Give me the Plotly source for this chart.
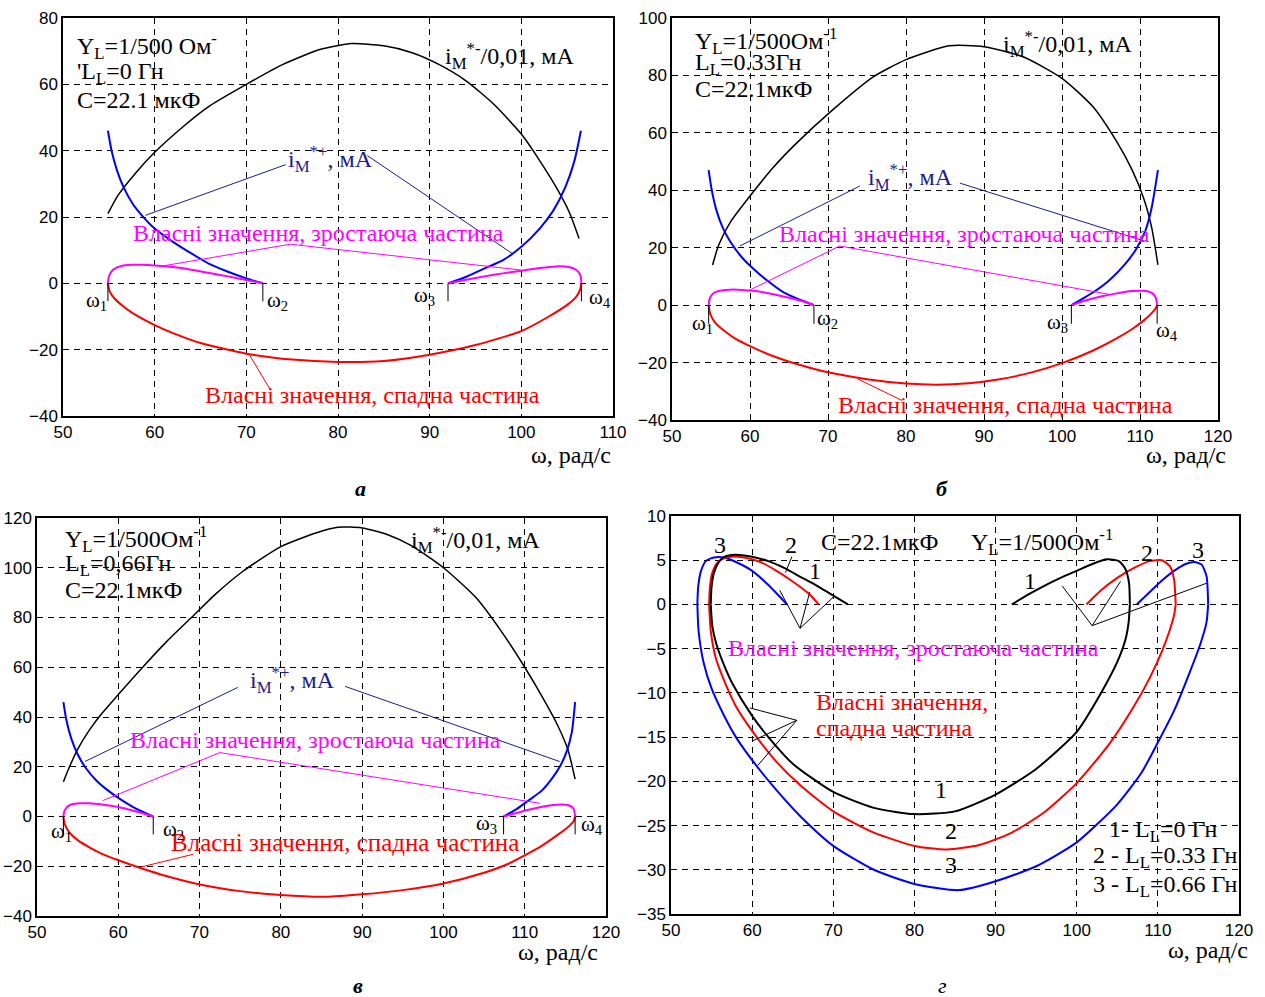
import plotly.graph_objects as go

# ---------------- data ----------------
# panel а : L_L = 0
A_BLACK_W = [54.9, 56, 58, 60, 63, 66, 70, 74, 78, 81.5, 85, 88, 91, 94, 97, 100, 102, 104, 105.3, 106.3]
A_BLACK_I = [21, 26.5, 33.5, 39.5, 47, 53.5, 60, 66, 70.5, 72.3, 71.6, 69.6, 66, 61, 54, 45, 37, 28, 21, 13.5]
A_BLUE_L_W = [54.9, 55.3, 55.9, 56.6, 57.6, 58.6, 60, 62, 64, 66, 68, 70, 71.8]
A_BLUE_L_I = [46, 40, 34, 29, 24, 20.5, 16.5, 12.5, 9, 5.8, 3.5, 1.5, 0]
A_BLUE_R_W = [92, 94, 96, 98, 100, 102, 103.5, 104.8, 105.8, 106.5]
A_BLUE_R_I = [0, 2, 4.5, 7, 11, 16.5, 22, 29, 37, 46]
A_MAG_L_W = [54.9, 55.0, 55.3, 55.9, 56.6, 57.5, 58.5, 60, 62, 64, 66, 68, 70, 71.8]
A_MAG_L_I = [0, 2, 3.6, 4.8, 5.4, 5.6, 5.6, 5.4, 4.9, 4.1, 3.1, 2.1, 1.0, 0]
A_MAG_R_W = [92, 94, 96, 98, 100, 102, 103.7, 105.2, 106.0, 106.45, 106.55]
A_MAG_R_I = [0, 1.1, 2.1, 3.0, 3.8, 4.6, 5.1, 4.9, 4.0, 2.4, 0]
A_RED_W = [54.9, 55.1, 55.6, 56.6, 57.6, 60, 62, 65, 70, 75, 80, 85, 90, 95, 100, 103, 105, 106, 106.4, 106.55]
A_RED_I = [0, -2.5, -4.5, -7, -9, -12.6, -15, -18, -21.2, -23, -23.7, -23.4, -21.5, -18.6, -14.4, -10, -6.5, -4, -2, 0]

# panel б : L_L = 0.33
B_BLACK_W = [55.2, 56, 57.5, 60, 63, 66, 70.6, 75.8, 80, 85.5, 90, 95, 100, 104, 107, 109, 110.5, 111.5, 112.3]
B_BLACK_I = [14, 21, 29, 38, 48, 56.5, 68, 79.5, 85.5, 90.3, 90, 86.5, 79, 69, 57, 47, 37, 27, 14]
B_BLUE_L_W = [54.7, 55.1, 55.7, 56.5, 57.5, 59, 60.5, 62, 64, 66, 68.2]
B_BLUE_L_I = [47, 40, 33, 27, 22, 16.5, 12.5, 9, 5, 2.3, 0]
B_BLUE_R_W = [101.2, 103, 104.3, 106, 108, 109.5, 110.7, 111.5, 112.3]
B_BLUE_R_I = [0, 2.8, 5, 8.5, 14, 19.5, 26, 34, 47]
B_MAG_L_W = [54.7, 54.8, 55.1, 55.7, 56.5, 57.5, 59, 61, 63, 65, 67, 68.2]
B_MAG_L_I = [0, 2, 3.6, 4.7, 5.2, 5.4, 5.3, 4.8, 3.8, 2.6, 1.2, 0]
B_MAG_R_W = [101.2, 103, 105, 107, 109, 110.5, 111.5, 112, 112.2]
B_MAG_R_I = [0, 1.6, 3.0, 4.1, 4.9, 5.0, 4.3, 2.8, 0]
B_RED_W = [54.7, 54.9, 55.5, 56.5, 58, 60, 63, 66, 70, 75, 80, 84, 88, 92, 96, 100, 104, 107, 109, 110.5, 111.5, 112, 112.2]
B_RED_I = [0, -3, -6, -8.5, -11.5, -14.3, -17.8, -20.5, -23.4, -25.8, -27.3, -27.7, -27.2, -25.8, -23.5, -20.2, -15.8, -11.6, -8.3, -5.3, -2.8, -1.2, 0]

# panel в : L_L = 0.66
C_BLACK_W = [53.25, 54, 55, 56.5, 58, 60, 63, 66, 69, 72, 75.3, 80, 84.3, 87, 90, 93, 96, 100, 104, 107, 110, 112, 114, 115.3, 116.2]
C_BLACK_I = [14, 20, 27, 35, 41.5, 49, 60, 70.5, 80, 89.5, 98.5, 108.5, 114, 116.3, 116, 113.5, 109, 100, 88, 75, 60, 49, 37, 27, 15]
C_BLUE_L_W = [53.25, 53.6, 54.2, 55, 56, 57.3, 58.6, 60, 62, 64.3]
C_BLUE_L_I = [46, 39, 31.5, 25, 19.5, 14.5, 10.8, 7.5, 3.5, 0]
C_BLUE_R_W = [107.4, 109, 110.5, 112.1, 113.3, 114.4, 115.2, 115.8, 116.2]
C_BLUE_R_I = [0, 3, 6.5, 10.4, 15, 20.5, 26.5, 34, 46]
C_MAG_L_W = [53.25, 53.35, 53.7, 54.3, 55.3, 56.5, 58, 60, 62, 64.3]
C_MAG_L_I = [0, 2, 3.8, 4.9, 5.3, 5.3, 4.8, 3.8, 2.2, 0]
C_MAG_R_W = [107.4, 109, 110.5, 112, 113.5, 114.5, 115.4, 116, 116.2]
C_MAG_R_I = [0, 1.4, 2.7, 3.8, 4.6, 4.8, 4.5, 3.2, 0]
C_RED_W = [53.25, 53.4, 54, 55, 56.5, 58, 60, 63, 66, 70, 75, 80, 85.5, 90, 95, 100, 105, 108, 110, 112, 114, 115.3, 116, 116.2]
C_RED_I = [0, -3, -6.5, -9.5, -12.5, -15, -17.6, -21, -24, -27.3, -30, -31.6, -32.3, -31.3, -29.6, -26.9, -22.6, -19, -15.6, -12, -7.5, -4.3, -2, 0]

X_TITLE = "ω, рад/с"
GROW = "Власні значення, зростаюча частина"
FALL = "Власні значення, спадна частина"

# ---------------- styling ----------------
SERIF = "Liberation Serif"
SANS = "Liberation Sans"
BLUE = "#0000ff"
NAVY = "#1c1c8c"
MAG = "#ff00ff"
RED = "#ff0000"
FS = 24
W, H = 1265, 997

fig = go.Figure()


def px(x):
    return x / W


def py(y):
    return 1 - y / H


def curve(xs, ys, color, width, n):
    fig.add_trace(go.Scatter(x=xs, y=ys, mode="lines", line=dict(color=color, width=width, shape="spline", smoothing=0.6),
                             xaxis="x" + n, yaxis="y" + n, showlegend=False, hoverinfo="skip"))


def omega_ticks(points, drop, n):
    for w in points:
        fig.add_trace(go.Scatter(x=[w, w], y=[0, -drop], mode="lines", line=dict(color="black", width=1),
                                 xaxis="x" + n, yaxis="y" + n, showlegend=False, hoverinfo="skip"))


annotations = []
shapes = []


def ann(text, x, y, n, color="black", size=FS, xanchor="left", yanchor="middle", font=SERIF):
    ref_x = "paper" if n is None else "x" + n
    ref_y = "paper" if n is None else "y" + n
    annotations.append(dict(text=text, x=x, y=y, xref=ref_x, yref=ref_y,
                            showarrow=False, xanchor=xanchor, yanchor=yanchor,
                            font=dict(family=font, size=size, color=color)))


def seg(x0, y0, x1, y1, n, color, width=1):
    shapes.append(dict(type="line", x0=x0, y0=y0, x1=x1, y1=y1, xref="x" + n, yref="y" + n,
                       line=dict(color=color, width=width)))


def standard_panel(n, bw, bi, blw, bli, brw, bri, mlw, mli, mrw, mri, rw, ri, drop):
    curve(bw, bi, "black", 1.5, n)
    curve(blw, bli, BLUE, 2, n)
    curve(brw, bri, BLUE, 2, n)
    curve(mlw, mli, MAG, 2, n)
    curve(mrw, mri, MAG, 2, n)
    curve(rw, ri, RED, 2, n)
    omega_ticks([mlw[0], mlw[-1], mrw[0], mrw[-1]], drop, n)


standard_panel("", A_BLACK_W, A_BLACK_I, A_BLUE_L_W, A_BLUE_L_I, A_BLUE_R_W, A_BLUE_R_I,
               A_MAG_L_W, A_MAG_L_I, A_MAG_R_W, A_MAG_R_I, A_RED_W, A_RED_I, 5.4)
standard_panel("2", B_BLACK_W, B_BLACK_I, B_BLUE_L_W, B_BLUE_L_I, B_BLUE_R_W, B_BLUE_R_I,
               B_MAG_L_W, B_MAG_L_I, B_MAG_R_W, B_MAG_R_I, B_RED_W, B_RED_I, 6.5)
standard_panel("3", C_BLACK_W, C_BLACK_I, C_BLUE_L_W, C_BLUE_L_I, C_BLUE_R_W, C_BLUE_R_I,
               C_MAG_L_W, C_MAG_L_I, C_MAG_R_W, C_MAG_R_I, C_RED_W, C_RED_I, 7.2)
for (mlw, mli, mrw, mri, rw, ri, col) in [
    (C_MAG_L_W, C_MAG_L_I, C_MAG_R_W, C_MAG_R_I, C_RED_W, C_RED_I, BLUE),
    (B_MAG_L_W, B_MAG_L_I, B_MAG_R_W, B_MAG_R_I, B_RED_W, B_RED_I, RED),
    (A_MAG_L_W, A_MAG_L_I, A_MAG_R_W, A_MAG_R_I, A_RED_W, A_RED_I, "black"),
]:
    curve(mlw, mli, col, 2, "4")
    curve(mrw, mri, col, 2, "4")
    curve(rw, ri, col, 2, "4")

# ---------------- annotations ----------------
IM = "i<sub>M</sub><sup>*-</sup>/0,01, мА"
IP = "i<sub>M</sub><sup>*+</sup>, мА"
w = lambda k: "ω<sub>%d</sub>" % k
WS = 21

# а
ann("Y<sub>L</sub>=1/500 Ом<sup>-</sup>", 51.3, 71.5, "")
ann("'L<sub>L</sub>=0 Гн", 51.3, 63.5, "")
ann("C=22.1 мкФ", 51.3, 55.3, "")
ann(IM, 91.5, 68.5, "")
ann(IP, 74.3, 37.5, "", color=NAVY)
seg(74.3, 35.8, 59.0, 20.5, "", NAVY)
seg(83.2, 38.5, 99.0, 9.0, "", NAVY)
ann(GROW, 57.4, 15.2, "", color=MAG)
seg(74.8, 11.8, 61.0, 5.3, "", MAG)
seg(74.8, 11.8, 100.0, 4.0, "", MAG)
ann(FALL, 65.3, -33.6, "", color=RED)
seg(70.3, -21.4, 72.6, -32.0, "", RED)
ann(w(1), 53.6, -5.3, "", xanchor="center", size=WS)
ann(w(2), 73.4, -5.3, "", xanchor="center", size=WS)
ann(w(3), 89.4, -3.9, "", xanchor="center", size=WS)
ann(w(4), 108.6, -4.3, "", xanchor="center", size=WS)

# б
ann("Y<sub>L</sub>=1/500Ом<sup>-1</sup>", 52.7, 92.0, "2")
ann("L<sub>L</sub>=0.33Гн", 52.7, 84.0, "2")
ann("C=22.1мкФ", 52.7, 75.3, "2")
ann(IM, 92.2, 91.0, "2")
ann(IP, 74.9, 44.6, "2", color=NAVY)
seg(74.1, 41.5, 58.7, 20.6, "2", NAVY)
seg(86.9, 42.5, 110.6, 22.3, "2", NAVY)
ann(GROW, 63.4, 24.7, "2", color=MAG)
seg(71.5, 20.6, 59.7, 4.9, "2", MAG)
seg(71.5, 20.6, 106.0, 3.8, "2", MAG)
ann(FALL, 71.0, -34.9, "2", color=RED)
seg(73.8, -25.7, 79.5, -33.2, "2", RED)
ann(w(1), 53.9, -6.6, "2", xanchor="center", size=WS)
ann(w(2), 69.9, -4.9, "2", xanchor="center", size=WS)
ann(w(3), 99.4, -6.2, "2", xanchor="center", size=WS)
ann(w(4), 113.5, -8.9, "2", xanchor="center", size=WS)

# в
ann("Y<sub>L</sub>=1/500Ом<sup>-1</sup>", 53.2, 111.4, "3")
ann("L<sub>L</sub>=0,66Гн", 53.2, 101.3, "3")
ann("C=22.1мкФ", 53.2, 90.9, "3")
ann(IM, 95.8, 111.0, "3")
ann(IP, 75.9, 54.7, "3", color=NAVY)
seg(74.7, 51.9, 55.9, 22.1, "3", NAVY)
seg(87.9, 52.3, 114.3, 22.1, "3", NAVY)
ann(GROW, 61.2, 30.6, "3", color=MAG)
seg(72.5, 25.7, 58.1, 6.4, "3", MAG)
seg(72.5, 25.7, 111.9, 5.3, "3", MAG)
ann(FALL, 66.2, -10.3, "3", color=RED, size=25)
seg(69.2, -15.2, 62.8, -20.3, "3", RED)
ann(w(1), 53.0, -6.3, "3", xanchor="center", size=WS)
ann(w(2), 66.8, -5.6, "3", xanchor="center", size=WS)
ann(w(3), 105.3, -2.9, "3", xanchor="center", size=WS)
ann(w(4), 118.3, -3.6, "3", xanchor="center", size=WS)

# г
ann("C=22.1мкФ", 68.2, 7.1, "4")
ann("Y<sub>L</sub>=1/500Ом<sup>-1</sup>", 86.7, 7.1, "4")
for t, x, y in [("3", 56.0, 6.7), ("2", 64.8, 6.7), ("1", 67.8, 3.8), ("1", 94.3, 2.7), ("2", 108.7, 5.8),
                ("3", 114.9, 6.1), ("1", 83.3, -21.0), ("2", 84.5, -25.6), ("3", 84.5, -29.5)]:
    ann(t, x, y, "4", xanchor="center")
seg(64.9, 5.4, 64.1, 3.6, "4", "black")
seg(65.9, -2.7, 63.4, 1.6, "4", "black")
seg(65.9, -2.7, 67.1, 1.4, "4", "black")
seg(65.9, -2.7, 70.2, 1.0, "4", "black")
seg(101.9, -2.4, 98.2, 2.1, "4", "black")
seg(101.9, -2.4, 105.4, 2.6, "4", "black")
seg(101.9, -2.4, 116.0, 2.4, "4", "black")
ann(GROW, 56.8, -4.9, "4", color=MAG)
ann("Власні значення,", 67.6, -11.0, "4", color=RED)
ann("спадна частина", 67.6, -14.0, "4", color=RED)
seg(65.5, -13.1, 59.7, -11.7, "4", "black")
seg(65.5, -13.1, 60.1, -15.4, "4", "black")
seg(65.5, -13.1, 60.7, -18.2, "4", "black")
ann("1- L<sub>L</sub>=0 Гн", 103.7, -25.6, "4")
ann("2 - L<sub>L</sub>=0.33 Гн", 101.7, -28.6, "4")
ann("3 - L<sub>L</sub>=0.66 Гн", 101.7, -31.8, "4")

for xr, yc in [(613, 455), (1228, 455), (600, 952), (1250, 950)]:
    ann(X_TITLE, px(xr), py(yc), None, xanchor="right")
for t, xc, yc in [("<b><i>а</i></b>", 360, 488), ("<b><i>б</i></b>", 942, 488),
                  ("<b><i>в</i></b>", 358, 985), ("<i>г</i>", 942, 985)]:
    ann(t, px(xc), py(yc), None, xanchor="center", size=22)


def axis(dom, rng, dtick, anchor):
    return dict(domain=dom, range=rng, dtick=dtick, tick0=0, showgrid=True, gridcolor="black", gridwidth=1,
                griddash="6px,5px", zeroline=False, showline=True, mirror=True, linecolor="black", linewidth=1.5,
                ticks="", tickfont=dict(family=SANS, size=17, color="black"), anchor=anchor, fixedrange=True,
                automargin=False)


layout = dict(
    width=W, height=H, margin=dict(l=0, r=0, t=0, b=0, pad=0), paper_bgcolor="white", plot_bgcolor="white",
    xaxis=axis([px(63), px(613)], [50, 110], 10, "y"),
    yaxis=axis([py(416), py(18)], [-40, 80], 20, "x"),
    xaxis2=axis([px(672), px(1218)], [50, 120], 10, "y2"),
    yaxis2=axis([py(420), py(18)], [-40, 100], 20, "x2"),
    xaxis3=axis([px(37), px(606)], [50, 120], 10, "y3"),
    yaxis3=axis([py(916), py(518)], [-40, 120], 20, "x3"),
    xaxis4=axis([px(671), px(1239)], [50, 120], 10, "y4"),
    yaxis4=axis([py(914), py(516)], [-35, 10], 5, "x4"),
    annotations=annotations, shapes=shapes,
)
fig.update_layout(**layout)
fig.write_html("out.html", config={"displayModeBar": False},
               post_script="document.body.style.margin='0';document.body.style.overflow='hidden';")
